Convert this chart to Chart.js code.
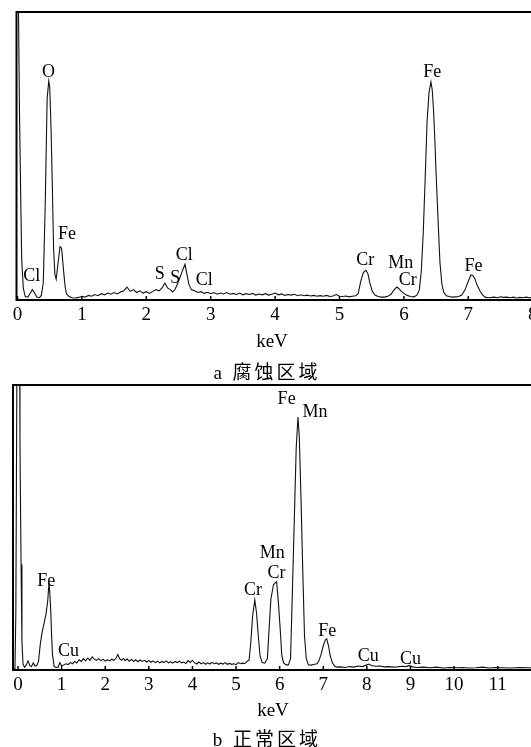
<!DOCTYPE html>
<html lang="zh">
<head>
<meta charset="utf-8">
<title>EDS 能谱</title>
<script src="https://cdn.jsdelivr.net/npm/chart.js@4.4.0/dist/chart.umd.min.js"></script>
<style>
  html, body { margin: 0; padding: 0; background: #fff; }
  body { position: relative; width: 531px; height: 747px; overflow: hidden; }
  canvas { position: absolute; left: 0; }
  #chartA { top: 0; }
  #chartB { top: 378px; }
  .note {
    position: absolute;
    transform: translate(-50%, -50%);
    font-family: "Liberation Serif", "Noto Sans CJK SC", serif;
    color: #000;
    white-space: nowrap;
  }
  .unit { font-size: 19px; }
  .caption { font-size: 19px; letter-spacing: 3px; }
</style>
</head>
<body>
<canvas id="chartA" width="560" height="350"></canvas>
<canvas id="chartB" width="560" height="340"></canvas>
<div class="note unit" style="left:272px; top:341px;">keV</div>
<div class="note caption" style="left:267px; top:370px;">a 腐蚀区域</div>
<div class="note unit" style="left:273px; top:710px;">keV</div>
<div class="note caption" style="left:267px; top:737px;">b 正常区域</div>

<script>
// a: corroded area spectrum
const energyA = [
  0, 0.015, 0.03, 0.05, 0.065, 0.09, 0.12, 0.16, 0.2, 0.23,
  0.26, 0.3, 0.34, 0.37, 0.4, 0.43, 0.46, 0.485, 0.5, 0.52,
  0.54, 0.56, 0.58, 0.6, 0.63, 0.66, 0.685, 0.7, 0.72, 0.74,
  0.76, 0.8, 0.85, 0.9, 0.95, 1.0, 1.05, 1.1, 1.15, 1.2,
  1.25, 1.3, 1.35, 1.4, 1.45, 1.5, 1.55, 1.6, 1.65, 1.7,
  1.75, 1.8, 1.85, 1.9, 1.95, 2.0, 2.05, 2.1, 2.15, 2.2,
  2.25, 2.29, 2.33, 2.37, 2.41, 2.45, 2.5, 2.55, 2.6, 2.63,
  2.66, 2.7, 2.75, 2.8, 2.85, 2.9, 2.95, 3.0, 3.05, 3.1,
  3.15, 3.2, 3.25, 3.3, 3.35, 3.4, 3.45, 3.5, 3.55, 3.6,
  3.65, 3.7, 3.75, 3.8, 3.85, 3.9, 3.95, 4.0, 4.05, 4.1,
  4.15, 4.2, 4.25, 4.3, 4.35, 4.4, 4.45, 4.5, 4.55, 4.6,
  4.65, 4.7, 4.75, 4.8, 4.85, 4.9, 4.95, 5.0, 5.05, 5.1,
  5.15, 5.2, 5.25, 5.29, 5.33, 5.37, 5.41, 5.44, 5.47, 5.51,
  5.55, 5.6, 5.65, 5.7, 5.75, 5.8, 5.85, 5.89, 5.92, 5.96,
  6.0, 6.05, 6.1, 6.15, 6.2, 6.24, 6.27, 6.3, 6.33, 6.36,
  6.39, 6.42, 6.44, 6.46, 6.48, 6.5, 6.53, 6.56, 6.59, 6.62,
  6.66, 6.7, 6.75, 6.8, 6.85, 6.9, 6.95, 7.0, 7.04, 7.07,
  7.1, 7.14, 7.18, 7.22, 7.27, 7.32, 7.4, 7.45, 7.5, 7.55,
  7.6, 7.65, 7.7, 7.75, 7.8, 7.85, 7.9, 7.95, 8.0, 8.05,
  8.1, 8.15, 8.2, 8.3,
];
const countsA = [
  160, 100, 66, 35, 14, 4, 1.2, 1, 2.4, 3.6,
  2.6, 1, 0.8, 1.6, 6, 33, 70, 76, 74, 60,
  40, 18, 9, 7.2, 13, 18.5, 18, 14, 9, 4.5,
  2.2, 1.2, 0.8, 0.7, 0.9, 1.3, 1.0, 1.6, 1.3, 1.9,
  1.5, 2.2, 1.8, 2.4, 2.0, 2.6, 2.1, 2.8, 3.2, 4.5,
  3.0, 3.6, 2.6, 3.2, 2.4, 2.9, 2.3, 3.0, 3.6, 3.2,
  4.4, 5.9, 4.2, 3.6, 2.8, 3.8, 6.5, 9.5, 12.4, 9,
  5.5, 3.6, 3.2, 2.6, 2.9, 2.3, 2.7, 2.2, 2.6, 2.0,
  2.4, 2.1, 2.6, 2.0, 2.3, 1.9, 2.4, 1.8, 2.2, 1.9,
  2.3, 1.7, 2.1, 1.8, 2.2, 1.7, 2.0, 2.4, 1.8, 2.1,
  1.6, 1.9, 1.7, 2.0, 1.5, 1.8, 1.5, 1.7, 1.4, 1.6,
  1.3, 1.5, 1.3, 1.6, 1.2, 1.4, 1.9, 1.3, 1.2, 1.4,
  1.1, 1.3, 1.5, 2.2, 6.5, 9.5, 10.3, 9.2, 6, 3,
  1.7, 1.2, 1.0, 1.0, 1.3, 2.0, 3.6, 4.5, 4.0, 3.0,
  2.3, 1.6, 1.2, 1.1, 1.6, 3.5, 10, 23, 42, 62,
  72, 75.7, 73, 66, 56, 44, 28, 13, 5.5, 2.6,
  1.5, 1.2, 1.0, 1.1, 1.2, 1.7, 3.6, 6.5, 8.7, 8.5,
  7.5, 5, 3.2, 1.8, 0.9, 0.8, 1.0, 0.8, 1.1, 0.9,
  1.0, 0.8, 1.0, 0.7, 0.9, 0.8, 1.0, 0.8, 0.9, 0.7,
  0.9, 0.8, 0.9, 0.8,
];
const ticksA = [0, 1, 2, 3, 4, 5, 6, 7, 8];
const peakTextA = ["Cl", "O", "Fe", "S", "S", "Cl", "Cl", "Cr", "Mn", "Cr", "Fe", "Fe"];
const peakKeVA = [0.22, 0.48, 0.77, 2.21, 2.45, 2.59, 2.9, 5.4, 5.95, 6.06, 6.44, 7.08];
const peakLevelA = [8.3, 79, 22.7, 9, 7.6, 15.6, 7, 13.9, 12.7, 7, 79, 11.6];

// b: normal area spectrum
const energyB = [
  -0.1, -0.07, -0.05, -0.03, -0.015, 0.03, 0.045, 0.055, 0.07, 0.09,
  0.115, 0.15, 0.19, 0.23, 0.27, 0.31, 0.35, 0.39, 0.43, 0.47,
  0.51, 0.55, 0.6, 0.64, 0.68, 0.71, 0.73, 0.75, 0.77, 0.79,
  0.83, 0.87, 0.92, 0.96, 1.0, 1.05, 1.1, 1.15, 1.2, 1.25,
  1.3, 1.35, 1.4, 1.45, 1.5, 1.55, 1.6, 1.65, 1.7, 1.75,
  1.8, 1.85, 1.9, 1.95, 2.0, 2.05, 2.1, 2.15, 2.2, 2.25,
  2.29, 2.33, 2.37, 2.42, 2.46, 2.5, 2.55, 2.6, 2.65, 2.7,
  2.75, 2.8, 2.85, 2.9, 2.95, 3.0, 3.05, 3.1, 3.15, 3.2,
  3.25, 3.3, 3.35, 3.4, 3.45, 3.5, 3.55, 3.6, 3.65, 3.7,
  3.75, 3.8, 3.85, 3.9, 3.95, 4.0, 4.05, 4.1, 4.15, 4.2,
  4.25, 4.3, 4.35, 4.4, 4.45, 4.5, 4.55, 4.6, 4.65, 4.7,
  4.75, 4.8, 4.85, 4.9, 4.95, 5.0, 5.05, 5.1, 5.15, 5.2,
  5.25, 5.3, 5.34, 5.38, 5.43, 5.47, 5.51, 5.55, 5.6, 5.66,
  5.72, 5.76, 5.8, 5.86, 5.93, 5.97, 6.01, 6.05, 6.09, 6.15,
  6.2, 6.25, 6.3, 6.34, 6.38, 6.42, 6.45, 6.49, 6.53, 6.57,
  6.61, 6.66, 6.72, 6.8, 6.86, 6.9, 6.95, 7.0, 7.05, 7.08,
  7.12, 7.16, 7.21, 7.26, 7.31, 7.4, 7.5, 7.6, 7.7, 7.8,
  7.9, 8.0, 8.05, 8.1, 8.2, 8.3, 8.4, 8.5, 8.6, 8.7,
  8.8, 8.9, 8.97, 9.05, 9.15, 9.3, 9.45, 9.6, 9.75, 9.9,
  10.05, 10.2, 10.35, 10.5, 10.65, 10.8, 10.95, 11.1, 11.3, 11.5,
  11.7, 11.9, 12.1, 12.3,
];
const countsB = [
  0.3, 0.5, 20, 90, 150, 150, 80, 62, 37, 10,
  2, 1, 1.8, 3.2, 1.5, 1.2, 2.5, 1.4, 1.6, 3,
  9, 13, 16.5, 19.5, 24, 30.5, 27, 21, 12, 5.5,
  1.2, 0.9, 1.0, 2.6, 1.4, 1.8, 2.2, 1.9, 2.6, 2.2,
  3.0, 2.5, 3.6, 3.0, 4.0, 3.2, 4.2, 3.4, 4.6, 3.8,
  3.4, 4.0, 3.3, 3.8, 3.1, 3.6, 3.2, 3.8, 3.4, 4.2,
  5.4, 4.0, 3.4, 4.0, 3.3, 3.9, 3.1, 3.7, 3.0, 3.6,
  2.9, 3.5, 3.0, 3.4, 2.8, 3.3, 2.7, 3.2, 2.6, 3.1,
  2.5, 3.0, 2.6, 3.2, 2.5, 2.9, 2.4, 3.0, 2.6, 3.1,
  2.5, 2.8, 2.3, 3.3, 2.6, 3.4, 2.5, 2.1, 2.8, 2.2,
  2.6, 2.0, 2.5, 2.1, 2.7, 2.2, 2.5, 2.0, 2.4, 2.1,
  2.6, 2.0, 2.3, 2.0, 2.2, 1.9, 2.6, 2.2, 2.4, 2.3,
  3, 3.5, 10, 19, 24.6, 20, 12, 5, 2.6, 2.4,
  4, 15, 25, 30, 31, 24, 15, 5, 2.5, 1.8,
  1.8, 4, 32, 55, 78, 88.8, 82, 60, 35, 12,
  4, 1.8, 1.7, 2.0, 2.2, 3.2, 5.5, 8.5, 10.6, 10.9,
  8.5, 5, 2.5, 1.4, 1.0, 1.1, 0.9, 1.2, 1.0, 1.4,
  1.2, 1.8, 2.1, 1.6, 1.3, 1.4, 1.1, 1.2, 1.0, 1.1,
  1.3, 1.2, 1.6, 1.1, 0.9, 1.0, 0.8, 1.0, 0.7, 0.9,
  0.8, 0.9, 0.7, 0.8, 1.0, 0.7, 0.9, 0.8, 0.7, 0.9,
  0.8, 0.7, 0.8, 0.7,
];
const ticksB = [0, 1, 2, 3, 4, 5, 6, 7, 8, 9, 10, 11, 12];
const peakTextB = ["Fe", "Cu", "Cr", "Mn", "Cr", "Fe", "Mn", "Fe", "Cu", "Cu"];
const peakKeVB = [0.65, 1.16, 5.39, 5.83, 5.93, 6.16, 6.81, 7.09, 8.03, 9.0];
const peakLevelB = [31, 6.7, 27.9, 40.9, 33.9, 95, 90.6, 13.5, 4.7, 3.7];

const serif = "'Liberation Serif', 'Times New Roman', serif";

// box, inward tick marks and element labels
const spectrumFrame = {
  id: "spectrumFrame",
  afterDatasetsDraw(chart, args, opts) {
    const { ctx, chartArea } = chart;
    const x = chart.scales.x;
    const y = chart.scales.y;
    ctx.save();
    ctx.strokeStyle = "#000";
    ctx.lineWidth = 2;
    ctx.strokeRect(chartArea.left, chartArea.top, chartArea.right - chartArea.left, chartArea.bottom - chartArea.top);
    ctx.lineWidth = 1.5;
    x.ticks.forEach((t) => {
      const px = x.getPixelForValue(t.value);
      ctx.beginPath();
      ctx.moveTo(px, chartArea.bottom);
      ctx.lineTo(px, chartArea.bottom - 4);
      ctx.stroke();
    });
    ctx.fillStyle = "#000";
    ctx.font = `18px ${serif}`;
    ctx.textAlign = "center";
    ctx.textBaseline = "middle";
    opts.text.forEach((label, i) => {
      ctx.fillText(label, x.getPixelForValue(opts.keV[i]), y.getPixelForValue(opts.level[i]));
    });
    ctx.restore();
  },
};

function makeSpectrum(canvasId, energy, counts, tickValues, range, pad, labels) {
  const points = energy.map((e, i) => ({ x: e, y: counts[i] }));
  return new Chart(document.getElementById(canvasId), {
    type: "line",
    data: {
      datasets: [
        {
          data: points,
          borderColor: "#111",
          borderWidth: 1.1,
          pointRadius: 0,
          tension: 0,
          fill: false,
        },
      ],
    },
    options: {
      responsive: false,
      animation: false,
      devicePixelRatio: 1,
      layout: { padding: pad },
      plugins: {
        legend: { display: false },
        tooltip: { enabled: false },
        spectrumFrame: labels,
      },
      scales: {
        x: {
          type: "linear",
          min: range[0],
          max: range[1],
          grid: { display: false, drawTicks: false },
          border: { display: false },
          afterBuildTicks: (scale) => {
            scale.ticks = tickValues.map((v) => ({ value: v }));
          },
          afterFit: (scale) => {
            scale.height = 45;
          },
          ticks: {
            autoSkip: false,
            maxRotation: 0,
            padding: 4,
            color: "#000",
            font: { family: serif, size: 19 },
            callback: (v) => String(v),
          },
        },
        y: {
          display: false,
          min: 0,
          max: 100,
        },
      },
    },
    plugins: [spectrumFrame],
  });
}

window.addEventListener("DOMContentLoaded", () => {
  makeSpectrum("chartA", energyA, countsA, ticksA, [-0.016, 8.3],
    { top: 12, left: 16.5, right: 8, bottom: 5 },
    { text: peakTextA, keV: peakKeVA, level: peakLevelA });
  makeSpectrum("chartB", energyB, countsB, ticksB, [-0.115, 12.2],
    { top: 7, left: 13, right: 10, bottom: 3 },
    { text: peakTextB, keV: peakKeVB, level: peakLevelB });
});
</script>
</body>
</html>
